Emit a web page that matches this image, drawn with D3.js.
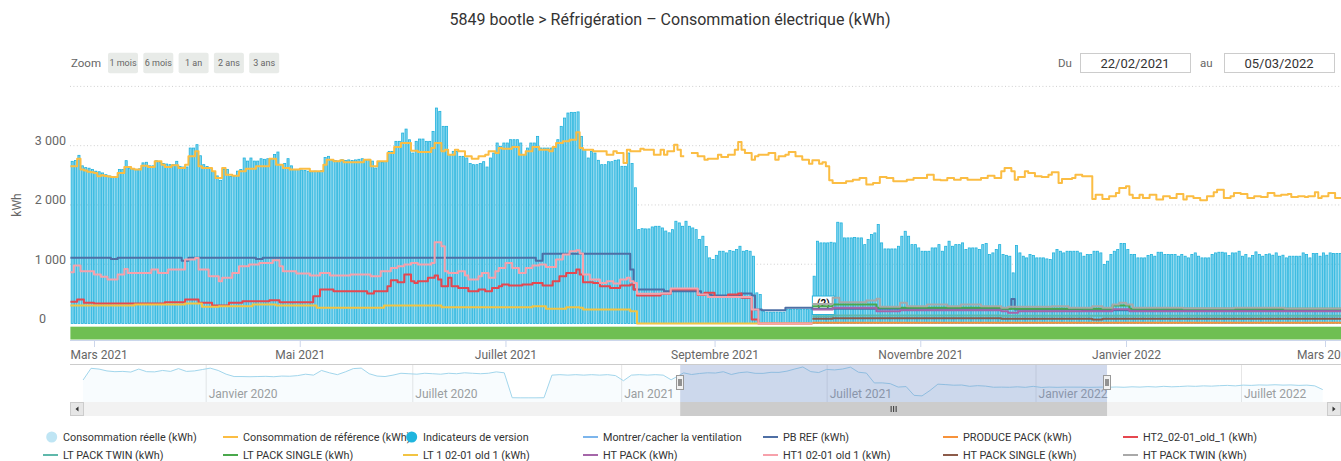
<!DOCTYPE html>
<html><head><meta charset="utf-8">
<script src="https://cdn.jsdelivr.net/npm/d3@7"></script>
<style>
html,body{margin:0;padding:0;background:#fff;overflow:hidden}
svg{display:block;font-family:Roboto,"Liberation Sans",sans-serif}
</style></head><body>
<svg id="c" width="1341" height="461"></svg>
<script>
// ---------------- DATA ----------------
const chartTitle = "5849 bootle > Réfrigération – Consommation électrique (kWh)";
const startDate = "2021-02-22";
const endDate = "2022-03-05";
const zoomButtons = ["1 mois","6 mois","1 an","2 ans","3 ans"];
const monthTickDates = ["2021-03-01","2021-05-01","2021-07-01","2021-09-01","2021-11-01","2022-01-01","2022-03-01"];
const monthTickLabels = ["Mars 2021","Mai 2021","Juillet 2021","Septembre 2021","Novembre 2021","Janvier 2022","Mars 2022"];
const yTicks = [0,1000,2000,3000];
const yGrid = [1000,2000,3000,4000];
const navTickDates = ["2020-01-01","2020-07-01","2021-01-01","2021-07-01","2022-01-01","2022-07-01"];
const navTickLabels = ["Janvier 2020","Juillet 2020","Jan 2021","Juillet 2021","Janvier 2022","Juillet 2022"];

// daily "Consommation réelle (kWh)" from 22/02/2021
const consoReelle = [
2736,2750,2837,2660,2630,2620,2600,2570,2560,2540,
2510,2490,2470,2480,2600,2600,2747,2620,2600,2600,
2610,2710,2720,2660,2660,2747,2720,2700,2690,2680,
2680,2736,2650,2640,2640,2960,2960,3017,2830,2680,
2650,2620,2560,2490,2416,2600,2600,2480,2480,2570,
2600,2792,2740,2792,2740,2740,2780,2770,2780,2770,
2850,2893,2680,2700,2781,2660,2600,2600,2590,2580,
2570,2560,2570,2560,2580,2800,2820,2760,2750,2740,
2764,2750,2760,2750,2760,2770,2780,2760,2770,2740,
2623,2730,2720,2730,2904,2904,3073,3073,3213,3280,
3100,2876,3073,3112,3112,3073,3073,3241,3635,3579,
3326,3326,2848,2904,2904,2820,2820,2792,2700,2680,
2680,2700,2730,2640,2792,2876,3045,2990,3045,3045,
3101,3101,3101,3045,2848,2960,3045,3045,3157,2960,
2960,2960,2960,2960,3101,3326,3466,3551,3562,3562,
3570,3157,2933,2792,2904,2876,2753,2680,2680,2730,
2730,2753,2760,2652,2652,2876,2700,2290,1584,1600,
1596,1596,1629,1640,1640,1612,1560,1530,1584,1725,
1697,1640,1725,1640,1612,1584,1416,1472,1300,1107,
1079,1150,1219,1219,1191,1230,1219,1247,1303,1219,
1230,1219,1135,517,489,200,191,191,191,191,
191,191,240,240,240,240,240,240,240,240,
798,1388,1360,1360,1360,1370,1360,1708,1697,1444,
1444,1444,1450,1444,1444,1331,1416,1500,1528,1669,
1360,1258,1258,1258,1258,1303,1472,1556,1472,1331,
1331,1275,1219,1219,1219,1275,1275,1331,1219,1303,
1388,1303,1331,1331,1360,1247,1275,1275,1275,1247,
1331,1348,1163,1191,1247,1331,1163,1150,1135,854,
1315,1191,1135,1107,1163,1146,1107,1107,1107,1090,
1079,1191,1247,1219,1191,1219,1219,1219,1219,1191,
1135,1163,1163,1219,1219,1191,994,1051,1163,1219,
1247,1348,1348,1247,1163,1163,1107,1107,1107,1146,
1163,1135,1202,1202,1163,1163,1163,1163,1135,1163,
1135,1107,1163,1191,1135,1107,1107,1107,1163,1191,
1202,1202,1191,1146,1191,1191,1219,1135,1163,1107,
1146,1208,1163,1135,1163,1174,1152,1191,1135,1152,
1107,1135,1135,1135,1135,1191,1163,1107,1180,1180,
1135,1191,1152,1191,1180,1180,1180];

// daily "Consommation de référence (kWh)"
const consoReference = [
2652,2652,2781,2596,2580,2560,2550,2540,2483,2500,
2490,2480,2472,2472,2539,2539,2640,2640,2610,2600,
2600,2663,2663,2640,2640,2736,2736,2680,2640,2640,
2670,2670,2624,2624,2680,2820,2820,2904,2652,2624,
2624,2624,2567,2455,2455,2624,2511,2511,2494,2494,
2567,2567,2610,2610,2610,2652,2652,2652,2652,2781,
2781,2680,2680,2624,2624,2596,2596,2596,2610,2610,
2610,2567,2567,2567,2567,2680,2764,2764,2736,2736,
2753,2719,2719,2719,2719,2719,2719,2764,2764,2652,
2652,2736,2736,2736,2876,2876,2978,2978,3045,3045,
3045,2916,2916,2893,2893,2893,2893,2961,3045,3045,
2904,2933,2848,2848,2933,2904,2904,2820,2820,2781,
2781,2820,2820,2848,2904,2904,2876,2961,2949,2949,
2949,2978,2978,2848,2848,2904,2904,2978,2978,2933,
2933,2933,2904,2978,3045,3045,3073,3073,3101,3101,
3225,2961,2933,2933,2933,2904,2904,2904,2904,2848,
2848,2904,2876,2876,2708,2933,2904,2904,2904,2949,
2933,2933,2933,2848,2848,2933,2848,2904,2904,3017,
2933,2820,2820,null,2876,2876,2820,2820,2764,2781,
2781,2781,2848,2809,2809,2848,2848,2933,3062,2933,
2876,2876,2764,2820,2848,2848,2848,2876,2876,2764,
2820,2820,2848,2893,2893,2820,2820,2764,2764,2697,
2753,2753,2697,2719,2652,2416,2371,2371,2371,2371,
2399,2399,2427,2427,2455,2455,2343,2343,2371,2371,
2472,2472,2455,2455,2399,2399,2399,2399,2427,2427,
2455,2455,2455,2455,2511,2511,2427,2427,2416,2416,
2455,2455,2427,2427,2455,2455,2427,2427,2427,2427,
2455,2455,2494,2494,2455,2455,2567,2624,2624,2567,
2427,2472,2472,2567,2539,2539,2483,2483,2472,2472,
2511,2550,2550,2371,2438,2438,2438,2455,2511,2511,
2483,2483,2483,2101,2174,2174,2101,2101,2146,2146,
2202,2287,2287,2315,2174,2118,2118,2174,2118,2118,
2174,2174,2090,2090,2146,2146,2118,2118,2185,2185,
2090,2146,2146,2118,2118,2079,2079,2146,2146,2213,
2258,2258,2118,2118,2146,2202,2202,2185,2185,2118,
2118,2146,2146,2135,2135,2202,2202,2157,2157,2174,
2174,2185,2135,2135,2146,2146,2135,2146,2146,2213,
2118,2146,2146,2202,2202,2118,2118];

// step series: [day index from startDate, value]
const pbRef = [[0,1110],[12,1090],[14,1110],[33,1060],[35,1110],[55,1090],[57,1110],[138,1060],[140,1175],[166,910],[167,573],[176,545],[187,489],[190,472],[199,506],[202,472],[203,236],[205,225],[212,264],[220,247],[279,415],[280,236],[300,225]];
const producePack = [[220,11]];
const ht2 = [[0,365],[2,404],[4,348],[7,337],[28,360],[34,404],[38,348],[42,303],[47,348],[51,376],[59,393],[62,360],[72,461],[74,573],[78,545],[88,506],[90,545],[94,629],[95,730],[97,697],[99,826],[101,713],[102,685],[103,713],[106,770],[108,809],[109,742],[110,629],[112,770],[113,629],[115,601],[118,545],[121,573],[123,545],[125,601],[127,629],[128,657],[130,640],[134,657],[137,685],[140,640],[143,713],[145,798],[147,854],[150,910],[151,826],[152,697],[155,685],[157,629],[160,601],[163,640],[166,657],[167,573],[168,472],[175,500],[178,573],[186,480],[188,517],[191,449],[195,489],[198,506],[199,433],[202,67],[204,0]];
const ltPackTwin = [[220,124],[226,135],[276,130]];
const ltPackSingle = [[220,292],[226,320],[239,264],[276,247],[309,303],[314,247]];
const lt1 = [[0,303],[19,320],[34,337],[39,281],[44,292],[54,320],[61,303],[73,264],[93,303],[110,275],[137,292],[141,247],[147,275],[151,264],[152,236],[166,208],[168,0]];
const htPack = [[220,236],[226,264],[239,208],[246,225],[276,208],[278,180],[281,208],[309,240],[314,208]];
const ht1 = [[0,865],[1,977],[3,882],[7,826],[9,787],[11,742],[14,826],[16,921],[17,854],[24,910],[26,854],[29,910],[34,1079],[37,1107],[38,910],[41,798],[44,713],[45,770],[48,854],[50,966],[53,994],[56,1022],[60,1067],[62,966],[63,882],[67,843],[71,809],[74,854],[77,809],[83,826],[89,798],[92,882],[95,938],[97,966],[99,994],[101,1022],[103,994],[107,1022],[108,1371],[110,1303],[111,882],[112,854],[115,882],[117,809],[118,742],[121,798],[122,854],[124,770],[126,882],[127,938],[129,1022],[131,938],[133,854],[135,938],[137,978],[139,994],[141,955],[144,1079],[146,1163],[148,1219],[150,1236],[151,1180],[152,826],[154,742],[157,685],[159,713],[161,674],[163,742],[165,770],[166,713],[167,685],[168,500],[175,506],[178,590],[186,489],[189,445],[202,236],[204,0]];
const htPackSingle = [[220,79],[226,90],[276,79],[303,67],[306,79]];
const htPackTwin = [[220,330],[226,433],[228,360],[236,388],[239,416],[240,281],[246,348],[248,292],[254,320],[260,292],[264,320],[270,292],[276,264],[278,281],[291,292],[296,264],[303,292],[306,264],[309,320],[311,348],[313,320],[315,264],[330,258],[345,264],[360,255]];
const oldSeriesEnd = 220;   // day index where the old meters stop
const dataEnd = 377;        // day index after the last day

// version flags
const versionFlags = [{day:220, title:"(2)"}];

// navigator: weekly values before and after the selected range
const navBeforeStart = "2019-09-15";
const navBefore = [1930,3180,3100,2900,2820,2850,2780,3100,2820,2800,2950,2850,3150,2850,2900,3050,3200,2950,2550,2300,2300,2280,2300,2320,2280,2350,2330,2400,2550,2450,2950,2700,2500,2800,3150,3200,2600,2350,2300,2450,2650,2600,2550,2650,2600,2550,2650,2600,2700,2650,2600,2650,2800,2700,30,20,20,20,30,2450,2500,2450,2500,2450,2500,2450,2500,2400,1850,2450,2500,2450,2500,2450,1950];
const navAfterStart = "2022-03-06";
const navAfter = [1150,1180,1150,1200,1170,1220,1180,1250,1200,1230,1280,1250,1300,1270,1320,1350,1300,1380,1350,1400,1380,1420,1380,1400,1350,1380,1300,900];

const legendItems = [
 {name:"Consommation réelle (kWh)", color:"#bfe5f4", type:"circle"},
 {name:"Consommation de référence (kWh)", color:"#fbbd43", type:"line"},
 {name:"Indicateurs de version", color:"#1fb5de", type:"circle"},
 {name:"Montrer/cacher la ventilation", color:"#7cb5ec", type:"line"},
 {name:"PB REF (kWh)", color:"#4e6fa5", type:"line"},
 {name:"PRODUCE PACK (kWh)", color:"#f7923a", type:"line"},
 {name:"HT2_02-01_old_1 (kWh)", color:"#e6474f", type:"line"},
 {name:"LT PACK TWIN (kWh)", color:"#5fb8ab", type:"line"},
 {name:"LT PACK SINGLE (kWh)", color:"#4aa84c", type:"line"},
 {name:"LT 1 02-01 old 1 (kWh)", color:"#f2c443", type:"line"},
 {name:"HT PACK (kWh)", color:"#a566a9", type:"line"},
 {name:"HT1 02-01 old 1 (kWh)", color:"#f7a1ab", type:"line"},
 {name:"HT PACK SINGLE (kWh)", color:"#8c5b4a", type:"line"},
 {name:"HT PACK TWIN (kWh)", color:"#a9a9a9", type:"line"}
];

const stepSeries = [
 {data:pbRef, color:"#4e6fa5", end:dataEnd},
 {data:producePack, color:"#f7923a", end:dataEnd},
 {data:ht2, color:"#e6474f", end:oldSeriesEnd},
 {data:ltPackTwin, color:"#5fb8ab", end:dataEnd},
 {data:ltPackSingle, color:"#4aa84c", end:dataEnd},
 {data:lt1, color:"#f2c443", end:oldSeriesEnd},
 {data:htPack, color:"#a566a9", end:dataEnd},
 {data:ht1, color:"#f7a1ab", end:oldSeriesEnd},
 {data:htPackSingle, color:"#8c5b4a", end:dataEnd},
 {data:htPackTwin, color:"#a9a9a9", end:dataEnd}
];

// ---------------- DRAW ----------------
const W = 1341, H = 461;
const svg = d3.select("#c");
const parse = d3.utcParse("%Y-%m-%d");
const fmtDate = d3.utcFormat("%d/%m/%Y");
const DAY = 864e5;
const t0 = parse(startDate);
const dateOf = d => new Date(t0.getTime() + d * DAY);

const plotLeft = 70, plotTop = 80, plotBottom = 326;
const x = d3.scaleUtc().domain([parse("2021-02-22"), parse("2022-03-01")]).range([70.4, 1325]);
const y = d3.scaleLinear().domain([0, 4000]).range([323.5, 86.4]);

const defs = svg.append("defs");
defs.append("clipPath").attr("id","plotClip").append("rect")
  .attr("x", plotLeft).attr("y", plotTop).attr("width", W - plotLeft).attr("height", plotBottom - plotTop);
defs.append("clipPath").attr("id","navClip").append("rect")
  .attr("x", plotLeft).attr("y", 364).attr("width", W - plotLeft).attr("height", 38);

// title
svg.append("text").attr("x", 670).attr("y", 25).attr("text-anchor","middle")
  .attr("font-size", 16).attr("fill", "#333").text(chartTitle);

// zoom buttons
svg.append("text").attr("x", 71).attr("y", 67).attr("font-size", 11.5).attr("fill", "#666").text("Zoom");
const zb = svg.append("g").selectAll("g").data(zoomButtons).join("g")
  .attr("transform", (d,i) => `translate(${108 + i*35.3},52.7)`);
zb.append("rect").attr("width", 30).attr("height", 20.6).attr("rx", 2).attr("fill", "#e8ebe8");
zb.append("text").attr("x", 15).attr("y", 13.5).attr("text-anchor","middle")
  .attr("font-size", 9).attr("fill", "#666").text(d => d);

// date range inputs
const rangeInputs = [
  {label:"Du", lx:1058, bx:1080, value: fmtDate(parse(startDate))},
  {label:"au", lx:1200, bx:1224, value: fmtDate(parse(endDate))}
];
rangeInputs.forEach(r => {
  svg.append("text").attr("x", r.lx).attr("y", 67).attr("font-size", 11.5).attr("fill", "#666").text(r.label);
  svg.append("rect").attr("x", r.bx + 0.5).attr("y", 53.5).attr("width", 110).attr("height", 19)
    .attr("fill", "#fff").attr("stroke", "#cccccc");
  svg.append("text").attr("x", r.bx + 55).attr("y", 67.5).attr("text-anchor","middle")
    .attr("font-size", 13).attr("fill", "#333").text(r.value);
});

// gridlines
svg.append("g").selectAll("line").data(yGrid).join("line")
  .attr("x1", plotLeft).attr("x2", W).attr("y1", d => y(d)).attr("y2", d => y(d))
  .attr("stroke", "#cfcfcf").attr("stroke-dasharray", "1,2.4");

// y axis labels
const fmtK = v => d3.format(",")(v).replace(/,/g, " ");
const yAxis = svg.append("g").attr("transform", "translate(66,-5)")
  .call(d3.axisLeft(y).tickValues(yTicks).tickSize(0).tickPadding(0).tickFormat(fmtK));
yAxis.select(".domain").remove();
yAxis.selectAll("text").attr("font-size", 12.5).attr("fill", "#666").attr("font-family", "Roboto")
  .attr("x", d => d === 0 ? -20 : 0);
svg.append("text").attr("transform", "translate(21,205) rotate(-90)").attr("text-anchor","middle")
  .attr("font-size", 12).attr("fill", "#666").text("kWh");

// plot layer
const plot = svg.append("g").attr("clip-path", "url(#plotClip)");

// bars
const barW = 2.1;
plot.append("g").selectAll("rect").data(consoReelle).join("rect")
  .attr("x", (v,i) => x(dateOf(i)) + 0.75)
  .attr("y", v => y(v))
  .attr("width", barW)
  .attr("height", v => y(0) - y(v))
  .attr("fill", "#7fd3ee").attr("stroke", "#20b2dc").attr("stroke-width", 0.8);

// reference step line
const refPts = consoReference.map((v,i) => ({d:i, v}));
refPts.push({d: consoReference.length, v: consoReference[consoReference.length-1]});
const stepLine = d3.line().x(p => x(dateOf(p.d))).y(p => y(p.v))
  .defined(p => p.v != null).curve(d3.curveStepAfter);
plot.append("path").attr("d", stepLine(refPts)).attr("fill","none")
  .attr("stroke", "#fbbd43").attr("stroke-width", 2).attr("stroke-linejoin","round");

// version flags
versionFlags.forEach(f => {
  const fx = x(dateOf(f.day));
  const g = plot.append("g");
  g.append("rect").attr("x", fx).attr("y", 296).attr("width", 22).attr("height", 18.5)
    .attr("fill", "#fff").attr("stroke", "#2ab4dc").attr("stroke-width", 1);
  g.append("text").attr("x", fx + 11).attr("y", 306.5).attr("text-anchor","middle")
    .attr("font-size", 10).attr("font-weight", "bold").attr("fill", "#111").text(f.title);
});

// other step series
stepSeries.forEach(s => {
  const pts = s.data.map(([d,v]) => ({d, v}));
  pts.push({d: s.end, v: s.data[s.data.length-1][1]});
  plot.append("path").attr("d", stepLine(pts)).attr("fill","none")
    .attr("stroke", s.color).attr("stroke-width", 2).attr("stroke-linejoin","round");
});

// version band
svg.append("rect").attr("x", x(parse(startDate))).attr("y", 326.7).attr("width", W - x(parse(startDate)))
  .attr("height", 12.8).attr("fill", "#6fbf52");

// x axis
svg.append("line").attr("x1", plotLeft).attr("x2", W).attr("y1", 340.5).attr("y2", 340.5).attr("stroke", "#ccd6eb");
const xAxis = svg.append("g").attr("transform", "translate(0,340)")
  .call(d3.axisBottom(x).tickValues(monthTickDates.map(parse)).tickSize(7).tickPadding(3)
    .tickFormat((d,i) => monthTickLabels[i]));
xAxis.select(".domain").remove();
xAxis.selectAll(".tick line").attr("stroke", "#ccd6eb");
xAxis.selectAll("text").attr("font-size", 12).attr("fill", "#666").attr("font-family", "Roboto");
xAxis.selectAll(".tick").each(function(d) {
  const t = d3.select(this).select("text").node();
  const w = t.getComputedTextLength();
  const left = x(d) - w/2;
  if (left < plotLeft) d3.select(t).attr("x", plotLeft - left);
});

// ---------------- NAVIGATOR ----------------
const nx = d3.scaleUtc().domain([parse("2020-01-01"), parse("2022-07-01")]).range([205.7, 1241]);
const ny = d3.scaleLinear().domain([0, 3000]).range([398, 370]);
const navTop = 364, navBottom = 402;

const nb0 = parse(navBeforeStart), na0 = parse(navAfterStart);
const navPts = [];
navBefore.forEach((v,k) => navPts.push({t: new Date(nb0.getTime() + 7*k*DAY), v}));
for (let k = 0; k*7 < consoReelle.length; k++) {
  const grp = consoReelle.slice(7*k, 7*k + 7);
  navPts.push({t: dateOf(7*k + 3), v: d3.mean(grp)});
}
navAfter.forEach((v,k) => navPts.push({t: new Date(na0.getTime() + 7*k*DAY), v}));

const nav = svg.append("g");
nav.append("g").selectAll("line").data(navTickDates).join("line")
  .attr("x1", d => nx(parse(d)) + 0.5).attr("x2", d => nx(parse(d)) + 0.5)
  .attr("y1", navTop).attr("y2", navBottom).attr("stroke", "#e6e6e6");
nav.append("g").selectAll("text").data(navTickDates).join("text")
  .attr("x", d => nx(parse(d)) + 3).attr("y", 398)
  .attr("font-size", 12).attr("fill", "#999").text((d,i) => navTickLabels[i]);

const navG = nav.append("g").attr("clip-path", "url(#navClip)");
navG.append("path").datum(navPts)
  .attr("d", d3.area().x(p => nx(p.t)).y0(navBottom).y1(p => ny(p.v)))
  .attr("fill", "#a5d8ee").attr("fill-opacity", 0.08);
navG.append("path").datum(navPts)
  .attr("d", d3.line().x(p => nx(p.t)).y(p => ny(p.v)))
  .attr("fill", "none").attr("stroke", "#a2d6ec").attr("stroke-width", 1);

const selA = nx(parse(startDate)), selB = nx(parse(endDate));
nav.append("rect").attr("x", selA).attr("y", navTop).attr("width", selB - selA).attr("height", navBottom - navTop)
  .attr("fill", "rgba(102,133,194,0.3)");
nav.append("line").attr("x1", plotLeft).attr("x2", W).attr("y1", navTop + 0.5).attr("y2", navTop + 0.5)
  .attr("stroke", "#cccccc");

// handles
[selA, selB].forEach(hx => {
  const g = nav.append("g").attr("transform", `translate(${Math.round(hx)},0)`);
  g.append("rect").attr("x", -3.5).attr("y", 375.5).attr("width", 7).attr("height", 14)
    .attr("fill", "#f2f2f2").attr("stroke", "#999");
  g.append("line").attr("x1", -1).attr("x2", -1).attr("y1", 379).attr("y2", 386).attr("stroke", "#333");
  g.append("line").attr("x1", 1).attr("x2", 1).attr("y1", 379).attr("y2", 386).attr("stroke", "#333");
});

// scrollbar
const sb = svg.append("g");
sb.append("rect").attr("x", plotLeft).attr("y", navBottom).attr("width", W - plotLeft).attr("height", 14).attr("fill", "#f2f2f2");
sb.append("rect").attr("x", selA).attr("y", navBottom).attr("width", selB - selA).attr("height", 14).attr("fill", "#cccccc");
const gc = (selA + selB) / 2;
[-2.5, 0, 2.5].forEach(o => sb.append("line").attr("x1", gc + o).attr("x2", gc + o)
  .attr("y1", 406).attr("y2", 412).attr("stroke", "#333"));
sb.append("rect").attr("x", plotLeft + 0.5).attr("y", navBottom + 0.5).attr("width", 13).attr("height", 13)
  .attr("fill", "#e6e6e6").attr("stroke", "#cccccc");
sb.append("path").attr("d", `M${plotLeft+8.5},${navBottom+4.5} L${plotLeft+5.5},${navBottom+7} L${plotLeft+8.5},${navBottom+9.5} Z`).attr("fill", "#333");
sb.append("rect").attr("x", W - 14 + 0.5).attr("y", navBottom + 0.5).attr("width", 13).attr("height", 13)
  .attr("fill", "#e6e6e6").attr("stroke", "#cccccc");
sb.append("path").attr("d", `M${W-8.5},${navBottom+4.5} L${W-5.5},${navBottom+7} L${W-8.5},${navBottom+9.5} Z`).attr("fill", "#333");

// ---------------- LEGEND ----------------
const lg = svg.append("g").selectAll("g").data(legendItems).join("g")
  .attr("transform", (d,i) => `translate(${43 + 180*(i % 7)},${i < 7 ? 437 : 455})`);
lg.each(function(d) {
  const g = d3.select(this);
  if (d.type === "circle") g.append("circle").attr("cx", 8.7).attr("cy", 0).attr("r", 5.5).attr("fill", d.color);
  else g.append("line").attr("x1", 0).attr("x2", 15).attr("y1", 0).attr("y2", 0).attr("stroke", d.color).attr("stroke-width", 2);
});
lg.append("text").attr("x", 20).attr("y", 3.8).attr("font-size", 10.8).attr("fill", "#333").text(d => d.name);
</script>
</body></html>
